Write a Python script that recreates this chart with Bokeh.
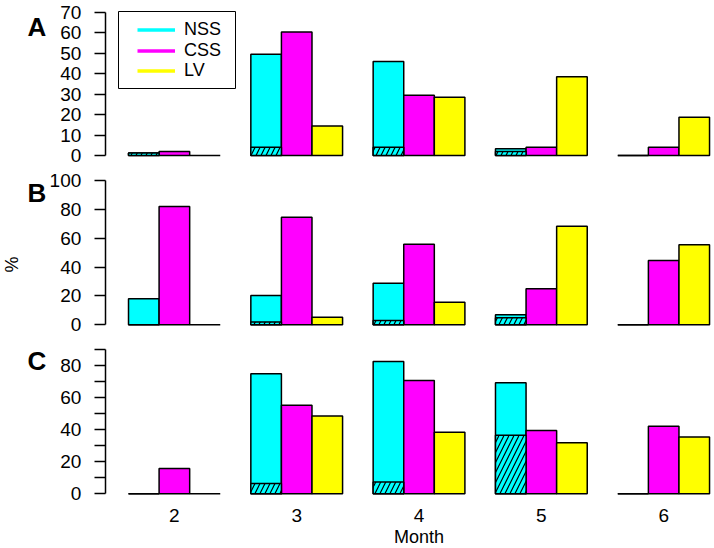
import math
from bokeh.plotting import figure
from bokeh.layouts import column
from bokeh.models import (ColumnDataSource, Range1d, FixedTicker, Legend, LegendItem,
                          Label, BoxAnnotation)
from bokeh.embed import file_html
from bokeh.resources import INLINE

months = ["2", "3", "4", "5", "6"]
series = ["NSS", "CSS", "LV"]
colors = ["#00FFFF", "#FF00FF", "#FFFF00"]

# Panel A
nss_a = [1.2, 49.5, 46.0, 3.3, 0.0]
nss_a_hatch = [1.2, 4.0, 4.0, 2.0, 0.0]
css_a = [2.0, 60.5, 29.5, 4.0, 4.0]
lv_a = [0.0, 14.5, 28.5, 38.5, 18.7]
# Panel B
nss_b = [18.0, 20.3, 28.8, 6.9, 0.0]
nss_b_hatch = [0.0, 2.0, 3.0, 4.8, 0.0]
css_b = [82.0, 74.6, 55.9, 25.0, 44.6]
lv_b = [0.0, 5.3, 15.7, 68.3, 55.4]
# Panel C
nss_c = [0.0, 74.8, 82.5, 69.2, 0.0]
nss_c_hatch = [0.0, 6.4, 7.3, 36.5, 0.0]
css_c = [15.8, 55.2, 70.6, 39.5, 42.2]
lv_c = [0.0, 48.6, 38.4, 31.8, 35.5]

ticks_a = [0, 10, 20, 30, 40, 50, 60, 70]
ticks_b = [0, 20, 40, 60, 80, 100]
ticks_c = [0, 10, 20, 30, 40, 50, 60, 70, 80, 90]
labels_c = {10: "", 30: "", 50: "", 70: "", 90: ""}

FONT = "Liberation Sans"
FIG_W = 714
X_RANGE = (-3.186, 20.162)
Y_AXIS_AT = 0.24


def positions(k):
    return [4 * g + k + 1.5 for g in range(len(months))]


def make_panel(nss, nss_h, css, lv, ticks, yr, height, letter, letter_y,
               overrides=None, xaxis=False):
    p = figure(width=FIG_W, height=height, x_range=Range1d(*X_RANGE),
               y_range=Range1d(*yr), output_backend="svg", toolbar_location=None,
               x_axis_location="below" if xaxis else None,
               min_border_left=0, min_border_right=0,
               min_border_top=0, min_border_bottom=0)
    p.outline_line_color = None
    p.xgrid.visible = False
    p.ygrid.visible = False
    for k, vals in enumerate([nss, css, lv]):
        src = ColumnDataSource(dict(x=positions(k), top=vals))
        p.vbar(x="x", top="top", width=1.0, source=src, fill_color=colors[k],
               line_color="black", line_width=1.5)
    hsrc = ColumnDataSource(dict(x=positions(0), top=nss_h))
    p.vbar(x="x", top="top", width=1.0, source=hsrc, fill_color=colors[0],
           line_color="black", line_width=1.5, hatch_pattern="/",
           hatch_color="black", hatch_scale=10, hatch_weight=1.2)
    ax = p.yaxis[0]
    ax.fixed_location = Y_AXIS_AT
    ax.ticker = FixedTicker(ticks=ticks)
    ax.bounds = (ticks[0], ticks[-1])
    ax.minor_tick_line_color = None
    ax.major_tick_in = 0
    ax.major_tick_out = 11
    ax.major_label_standoff = 13
    ax.axis_line_width = 1.5
    ax.major_tick_line_width = 1.5
    ax.major_label_text_font = FONT
    ax.major_label_text_font_size = "19px"
    ax.major_label_text_color = "black"
    if overrides:
        ax.major_label_overrides = overrides
    p.add_layout(Label(x=27, y=letter_y, x_units="screen", y_units="screen",
                       text=letter, text_font=FONT, text_font_size="26px",
                       text_font_style="bold", text_align="left",
                       text_baseline="alphabetic", text_color="black"))
    return p


pA = make_panel(nss_a, nss_a_hatch, css_a, lv_a, ticks_a, (-4.895, 75.87), 165, "A", 138.3)
pB = make_panel(nss_b, nss_b_hatch, css_b, lv_b, ticks_b, (-8.11, 110.4), 171, "B", 144)
pC = make_panel(nss_c, nss_c_hatch, css_c, lv_c, ticks_c, (-34.12, 98.11), 212, "C", 187.3,
                overrides=labels_c, xaxis=True)

# "%" label of the middle panel
pB.add_layout(Label(x=11, y=72, x_units="screen", y_units="screen", text="%",
                    angle=math.pi / 2, text_font=FONT, text_font_size="18px",
                    text_align="center", text_baseline="middle", text_color="black"))

# x axis on panel C
xa = pC.xaxis[0]
xa.fixed_location = 0
xa.ticker = FixedTicker(ticks=[4 * g + 2.5 for g in range(len(months))])
xa.major_label_overrides = {4 * g + 2.5: m for g, m in enumerate(months)}
xa.axis_line_color = None
xa.major_tick_line_color = None
xa.minor_tick_line_color = None
xa.major_tick_out = 0
xa.major_label_standoff = 15
xa.major_label_text_font = FONT
xa.major_label_text_font_size = "19px"
xa.major_label_text_color = "black"
pC.add_layout(Label(x=10.5, y=11.5, y_units="screen", text="Month", text_font=FONT,
                    text_font_size="18px", text_align="center", text_baseline="middle",
                    text_color="black"))

# legend on panel A: a frame box plus one single-row legend per series
pA.add_layout(BoxAnnotation(left=118, right=235, bottom=77, top=154,
                            left_units="screen", right_units="screen",
                            bottom_units="screen", top_units="screen",
                            fill_color="white", fill_alpha=1.0,
                            line_color="black", line_width=1, line_alpha=1.0))
row_y = [125, 104.5, 84]
for k, name in enumerate(series):
    r = pA.line(x=[-100, -99], y=[-100, -100], line_color=colors[k], line_width=3.5)
    leg = Legend(items=[LegendItem(label=name, renderers=[r])],
                 location=(137, row_y[k]), padding=0, spacing=0,
                 glyph_width=38, glyph_height=17, label_height=17,
                 label_standoff=9, label_text_font=FONT, label_text_font_size="18px",
                 label_text_color="black", border_line_color=None,
                 background_fill_alpha=0)
    pA.add_layout(leg)

layout = column(pA, pB, pC, spacing=0)
open("out.html", "w").write(file_html(layout, INLINE))
